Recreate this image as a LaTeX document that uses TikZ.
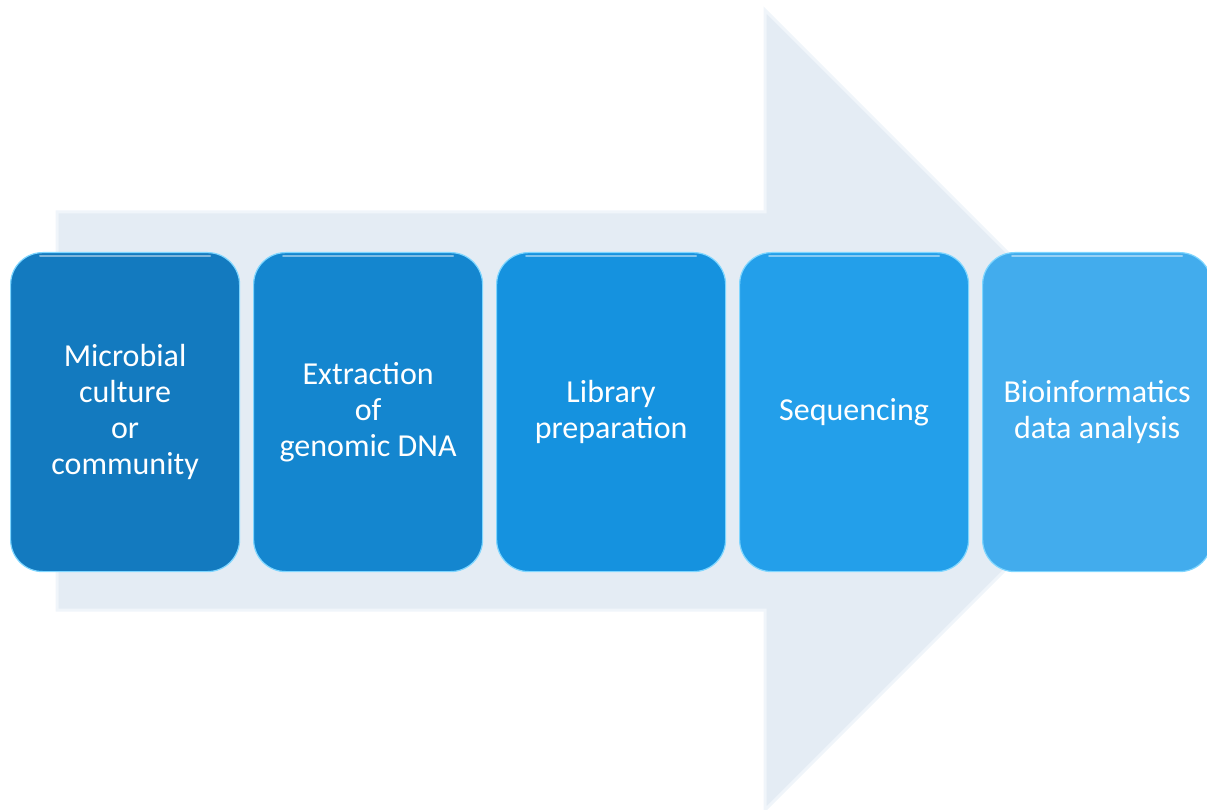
\documentclass[tikz,border=0pt]{standalone}
\usepackage{fontspec}
\setmainfont{Carlito}
\definecolor{arrowfill}{HTML}{E4ECF4}
\definecolor{arrowedge}{HTML}{F0F5FA}
\definecolor{cA}{HTML}{137ABF}
\definecolor{cB}{HTML}{1486CF}
\definecolor{cC}{HTML}{1592DF}
\definecolor{cD}{HTML}{239FEA}
\definecolor{cE}{HTML}{42ACED}
\definecolor{hilite}{HTML}{7FD6FF}
\tikzset{
  stepbox/.style={draw=hilite, line width=1.2pt, rounded corners=32pt,
    minimum width=229pt, minimum height=319pt, anchor=north west,
    text=white, align=center, font=\fontsize{32}{36}\selectfont, inner sep=0pt},
}
\begin{document}
\begin{tikzpicture}[x=1pt,y=-1pt]
\useasboundingbox (0,0) rectangle (1207,810);
% big background arrow
\fill[arrowfill, draw=arrowedge, line width=3pt]
  (57,212) -- (765,212) -- (765,10) -- (1165,410) -- (765,810) -- (765,610) -- (57,610) -- cycle;
% steps
\node[stepbox, fill=cA] (s1) at (10,252) {Microbial\\culture\\or\\community};
\node[stepbox, fill=cB] (s2) at (253,252) {Extraction\\of\\genomic DNA};
\node[stepbox, fill=cC] (s3) at (496,252) {Library\\preparation};
\node[stepbox, fill=cD] (s4) at (739,252) {Sequencing};
\node[stepbox, fill=cE] (s5) at (982,252) {Bioinformatics\\data analysis};
% top highlights
\foreach \n in {s1,s2,s3,s4,s5}{
  \draw[white, opacity=0.45, line width=2pt, line cap=round]
    ([xshift=30pt,yshift=-4pt]\n.north west) -- ([xshift=-30pt,yshift=-4pt]\n.north east);
}
\end{tikzpicture}
\end{document}
